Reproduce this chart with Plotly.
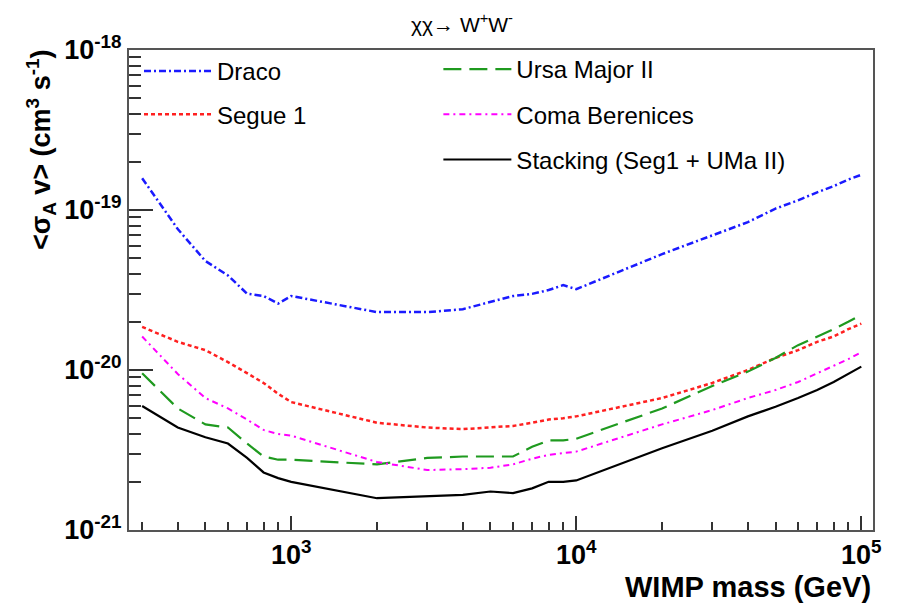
import plotly.graph_objects as go

# WIMP mass grid (GeV)
MASS = [300, 400, 500, 600, 700, 800, 900, 1000, 2000, 3000, 4000, 5000, 6000,
        7000, 8000, 9000, 10000, 20000, 30000, 40000, 50000, 60000, 70000,
        80000, 90000, 100000]

# <sigma_A v> upper limits (cm^3 s^-1)
DRACO = [1.58e-19, 7.6e-20, 4.8e-20, 3.9e-20, 3.0e-20, 2.9e-20, 2.6e-20, 2.9e-20,
         2.3e-20, 2.3e-20, 2.4e-20, 2.66e-20, 2.9e-20, 2.99e-20, 3.16e-20, 3.39e-20,
         3.2e-20, 5.3e-20, 6.9e-20, 8.4e-20, 1.02e-19, 1.15e-19, 1.29e-19, 1.41e-19,
         1.55e-19, 1.66e-19]
SEGUE1 = [1.86e-20, 1.5e-20, 1.33e-20, 1.12e-20, 9.55e-21, 8.3e-21, 7.1e-21, 6.3e-21,
          4.68e-21, 4.37e-21, 4.27e-21, 4.37e-21, 4.47e-21, 4.68e-21, 4.9e-21, 5.0e-21,
          5.13e-21, 6.68e-21, 8.3e-21, 1.0e-20, 1.19e-20, 1.33e-20, 1.5e-20, 1.62e-20,
          1.8e-20, 1.95e-20]
UMA2 = [9.55e-21, 5.75e-21, 4.57e-21, 4.37e-21, 3.47e-21, 2.88e-21, 2.75e-21, 2.75e-21,
        2.57e-21, 2.82e-21, 2.88e-21, 2.88e-21, 2.88e-21, 3.31e-21, 3.63e-21, 3.63e-21,
        3.72e-21, 5.75e-21, 7.94e-21, 9.77e-21, 1.19e-20, 1.43e-20, 1.61e-20, 1.8e-20,
        2.0e-20, 2.21e-20]
COMA = [1.62e-20, 9.44e-21, 6.68e-21, 5.75e-21, 4.9e-21, 4.22e-21, 3.98e-21, 3.89e-21,
        2.66e-21, 2.37e-21, 2.4e-21, 2.45e-21, 2.57e-21, 2.79e-21, 2.95e-21, 3.02e-21,
        3.09e-21, 4.57e-21, 5.62e-21, 6.68e-21, 7.5e-21, 8.41e-21, 9.55e-21, 1.06e-20,
        1.17e-20, 1.29e-20]
STACK = [5.96e-21, 4.37e-21, 3.8e-21, 3.47e-21, 2.82e-21, 2.29e-21, 2.11e-21, 2.0e-21,
         1.58e-21, 1.62e-21, 1.66e-21, 1.74e-21, 1.7e-21, 1.82e-21, 2.0e-21, 2.0e-21,
         2.04e-21, 3.24e-21, 4.17e-21, 5.13e-21, 5.89e-21, 6.68e-21, 7.5e-21, 8.41e-21,
         9.44e-21, 1.05e-20]

XTICK_VALS = [1e3, 1e4, 1e5]
XTICK_TEXT = ["10<sup>3</sup>", "10<sup>4</sup>", "10<sup>5</sup>"]
YTICK_VALS = [1e-21, 1e-20, 1e-19, 1e-18]
YTICK_TEXT = ["10<sup>-21</sup>", "10<sup>-20</sup>", "10<sup>-19</sup>", "10<sup>-18</sup>"]

FONT = "Liberation Sans, Arial, sans-serif"

fig = go.Figure()

series = [
    ("Draco", DRACO, "#1a1aff", "7px,3px,2px,3px", 2.5, "legend"),
    ("Segue 1", SEGUE1, "#ff2020", "4px,3px", 2.5, "legend"),
    ("Ursa Major II", UMA2, "#1f9a1f", "18px,8px", 2.2, "legend2"),
    ("Coma Berenices", COMA, "#ff00ff", "6px,4px,2px,4px", 2, "legend2"),
    ("Stacking (Seg1 + UMa II)", STACK, "black", "solid", 2.2, "legend2"),
]
for name, vals, color, dash, w, leg in series:
    fig.add_trace(go.Scatter(
        x=MASS, y=vals, mode="lines", name=name, legendgroup=name,
        line=dict(color=color, dash=dash, width=w), legend=leg,
    ))

minor_y = [k * 10.0 ** e for e in range(-21, -18) for k in range(2, 10)]
minor_x = [k * 10.0 ** e for e in range(2, 6) for k in range(2, 10)]

W_PLOT, H_PLOT, L, T = 744, 480, 129, 50

fig.update_layout(
    width=901, height=606,
    margin=dict(l=L, r=28, t=T, b=76),
    paper_bgcolor="white", plot_bgcolor="white",
    font=dict(family=FONT, color="black"),
    showlegend=True,
    legend=dict(x=10 / W_PLOT, y=1 + 1 / H_PLOT, xanchor="left", yanchor="top",
                bgcolor="rgba(0,0,0,0)", font=dict(size=24),
                tracegroupgap=9, itemwidth=68),
    legend2=dict(x=0.397 + 14 / W_PLOT, y=1 + 3 / H_PLOT, xanchor="left", yanchor="top",
                 bgcolor="rgba(0,0,0,0)", font=dict(size=24),
                 tracegroupgap=11, itemwidth=68),
    xaxis=dict(
        type="log", range=[2.431, 5.041],
        tickmode="array", tickvals=XTICK_VALS, ticktext=XTICK_TEXT,
        ticks="inside", ticklen=14, tickwidth=1.5, tickcolor="#333",
        tickfont=dict(size=27, family=FONT, weight="bold"),
        showline=True, linecolor="#555", linewidth=2, mirror=True,
        showgrid=False, zeroline=False,
        minor=dict(tickmode="array", tickvals=minor_x, ticks="inside",
                   ticklen=8, tickcolor="#333", showgrid=False),
    ),
    yaxis=dict(
        type="log", range=[-21, -18],
        tickmode="array", tickvals=YTICK_VALS, ticktext=YTICK_TEXT,
        ticks="inside", ticklen=24, tickwidth=1.5, tickcolor="#333",
        tickfont=dict(size=27, family=FONT, weight="bold"),
        showline=True, linecolor="#555", linewidth=2, mirror=True,
        showgrid=False, zeroline=False,
        minor=dict(tickmode="array", tickvals=minor_y, ticks="inside",
                   ticklen=12, tickcolor="#333", showgrid=False),
    ),
    annotations=[
        dict(text="χχ→ W<sup>+</sup>W<sup>-</sup>", x=(462 - L) / W_PLOT, y=1 + (T - 23) / H_PLOT,
             xref="paper", yref="paper", yanchor="middle",
             showarrow=False, font=dict(size=21, family=FONT)),
        dict(text="<b>WIMP mass (GeV)</b>", x=1.0, y=-(587 - 530) / H_PLOT, xref="paper", yref="paper",
             xanchor="right", yanchor="middle", showarrow=False,
             font=dict(size=29, family=FONT)),
        dict(text="<b><σ<sub>A</sub> v> (cm<sup>3</sup> s<sup>-1</sup>)</b>", textangle=-90,
             x=-(129 - 41) / W_PLOT, y=1.005, xref="paper", yref="paper", xanchor="center", yanchor="top",
             showarrow=False, font=dict(size=27, family=FONT)),
    ],
)

fig.write_html("out.html")
